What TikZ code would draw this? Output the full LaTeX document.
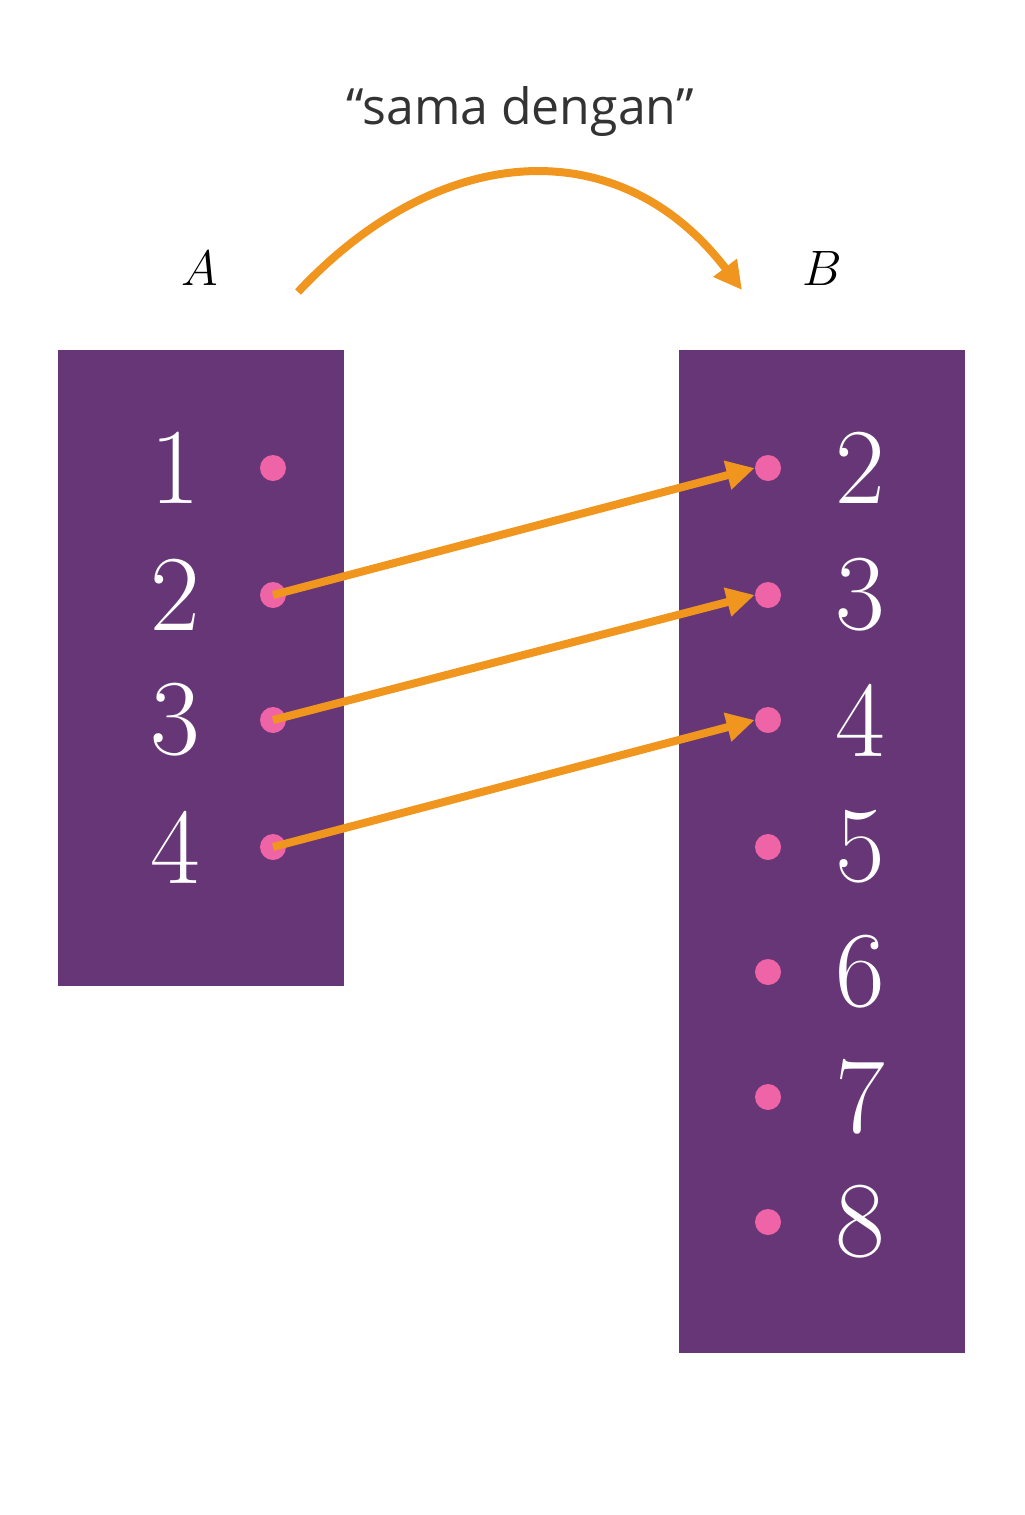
\documentclass[tikz,border=0pt]{standalone}
\usepackage{fontspec}
\newfontfamily\labelfont{Open Sans}
\usetikzlibrary{positioning}
\usetikzlibrary{arrows.meta}
\definecolor{setpurple}{HTML}{663677}
\definecolor{dotpink}{HTML}{EE64A6}
\definecolor{maporange}{HTML}{F0961E}
\tikzset{
  setbox/.style={fill=setpurple,draw=none},
  elem/.style={circle,fill=dotpink,inner sep=0pt,minimum size=13pt},
  num/.style={text=white,font=\fontsize{54}{60}\selectfont},
  maparrow/.style={draw=maporange,line width=4pt,-{Triangle[length=14pt,width=14pt]}},
}
\begin{document}
\begin{tikzpicture}[x=0.5pt,y=-0.5pt]
				\useasboundingbox (0,0) rectangle (1024,1515);
				\fill[setbox] (58,350) rectangle (344,986);
				\fill[setbox] (679,350) rectangle (965,1353);
				\node[font=\fontsize{80}{90}\selectfont] (setA) at (200,268) {$A$};
				\node[font=\fontsize{80}{90}\selectfont] (setB) at (822,268) {$B$};
				\node[font=\labelfont\fontsize{25}{30}\selectfont,text=black!80] (rel) at (520,112) {“sama dengan”};
				\coordinate (arcstart) at (298,292);
				\coordinate (arcend) at (742,290);
				% left set
				\foreach \v/\y in {1/468,2/595,3/720,4/847}{
					\node[elem] (a\v) at (273,\y) {};
					\node[num] (na\v) at (175,\y) {\v};
				}
				% right set
				\foreach \v/\y in {2/468,3/595,4/720,5/847,6/972,7/1097,8/1222}{
					\node[elem] (b\v) at (768,\y) {};
					\node[num] (nb\v) at (860,\y) {\v};
				}
				\draw[maparrow] (arcstart) .. controls (440,140) and (620,130) .. (arcend);
				\draw[maparrow] (a2.center) -- (b2.west);
				\draw[maparrow] (a3.center) -- (b3.west);
				\draw[maparrow] (a4.center) -- (b4.west);
			\end{tikzpicture}
\end{document}
